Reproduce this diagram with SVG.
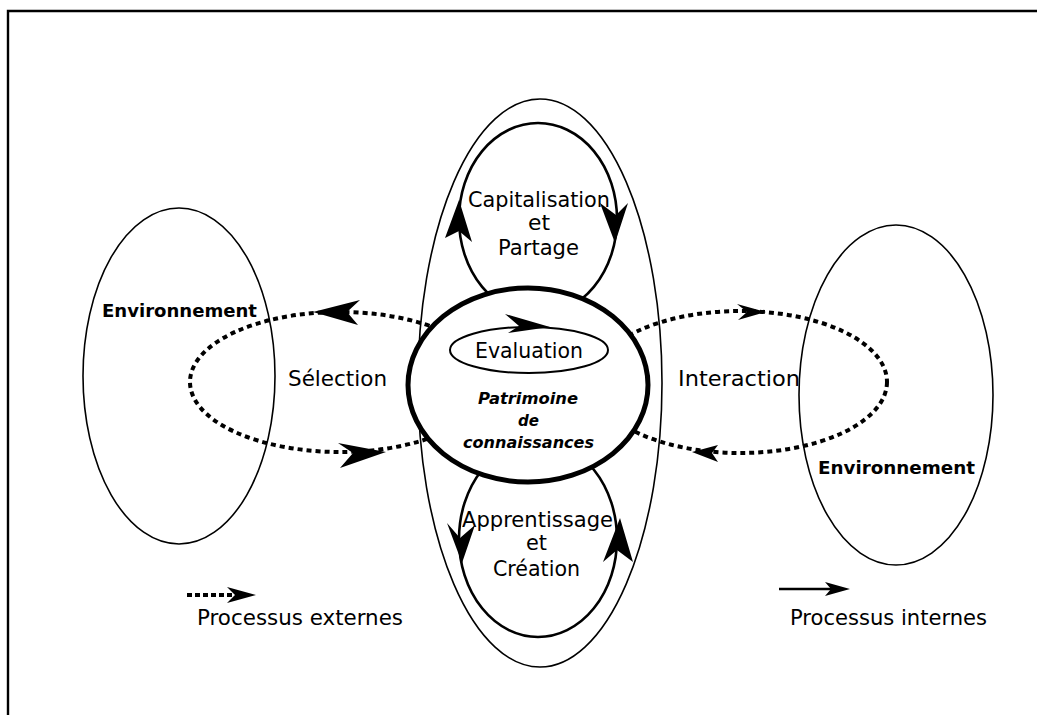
<svg xmlns="http://www.w3.org/2000/svg" width="1037" height="715" viewBox="0 0 1037 715">
<style>
.t{font-family:"DejaVu Sans","Liberation Sans",sans-serif;font-size:21px;fill:#000}
.b{font-family:"DejaVu Sans","Liberation Sans",sans-serif;font-size:18px;font-weight:bold;fill:#000}
.bi{font-family:"DejaVu Sans","Liberation Sans",sans-serif;font-size:16px;font-weight:bold;font-style:italic;fill:#000}
.thin{fill:none;stroke:#000;stroke-width:1.6}
.loop{fill:none;stroke:#000;stroke-width:2.6}
.dot{fill:none;stroke:#000;stroke-width:4;stroke-dasharray:5 4}
.ah{fill:#000;stroke:none}
</style>
<rect x="0" y="0" width="1037" height="715" fill="#fff"/>
<g id="frame">
<path d="M8,715 V11 H1037" fill="none" stroke="#000" stroke-width="2.4"/>
</g>
<g id="env-left">
<ellipse cx="179" cy="376" rx="96" ry="168" class="thin"/>
<text class="b" x="102" y="317" textLength="155" lengthAdjust="spacingAndGlyphs">Environnement</text>
</g>
<g id="env-right">
<ellipse cx="896" cy="395" rx="97" ry="170" class="thin"/>
<text class="b" x="818" y="474" textLength="157" lengthAdjust="spacingAndGlyphs">Environnement</text>
</g>
<g id="connectors">
<ellipse cx="340" cy="382" rx="150" ry="70" class="dot"/>
<ellipse cx="740" cy="382" rx="147" ry="71" class="dot"/>
<polygon class="ah" points="313,312 360,300 347,312 358,325"/>
<polygon class="ah" points="386,452 338,443 353,453 340,468"/>
<polygon class="ah" points="766,312 737,304 747,312 738,320"/>
<polygon class="ah" points="692,452 718,445 712,453 718,462"/>
</g>
<g id="systeme">
<ellipse cx="540" cy="383" rx="122" ry="284" class="thin"/>
</g>
<g id="capitalisation">
<ellipse cx="538" cy="219" rx="79" ry="96" class="loop"/>
<polygon class="ah" points="459,200 445,238 459,231 472,242"/>
<polygon class="ah" points="615,243 600,203 616,215 628,203"/>
<text class="t" x="468" y="207" textLength="142" lengthAdjust="spacingAndGlyphs">Capitalisation</text>
<text class="t" x="528" y="230" textLength="22" lengthAdjust="spacingAndGlyphs">et</text>
<text class="t" x="498" y="255" textLength="81" lengthAdjust="spacingAndGlyphs">Partage</text>
</g>
<g id="apprentissage">
<ellipse cx="538" cy="539" rx="79" ry="98" class="loop"/>
<polygon class="ah" points="462,563 447,523 460,538 475,525"/>
<polygon class="ah" points="620,518 603,562 617,550 633,562"/>
<text class="t" x="462" y="527" textLength="151" lengthAdjust="spacingAndGlyphs">Apprentissage</text>
<text class="t" x="526" y="550" textLength="21" lengthAdjust="spacingAndGlyphs">et</text>
<text class="t" x="493" y="576" textLength="87" lengthAdjust="spacingAndGlyphs">Création</text>
</g>
<g id="patrimoine">
<ellipse cx="528" cy="385" rx="120" ry="97" fill="#fff" stroke="#000" stroke-width="5"/>
<text class="bi" x="478" y="404" textLength="100" lengthAdjust="spacingAndGlyphs">Patrimoine</text>
<text class="bi" x="518" y="426" textLength="21" lengthAdjust="spacingAndGlyphs">de</text>
<text class="bi" x="463" y="448" textLength="131" lengthAdjust="spacingAndGlyphs">connaissances</text>
</g>
<g id="evaluation">
<ellipse cx="529" cy="350" rx="79" ry="23" fill="none" stroke="#000" stroke-width="2"/>
<polygon class="ah" points="550,327 505,314 519,326 508,333"/>
<text class="t" x="475" y="358" textLength="108" lengthAdjust="spacingAndGlyphs">Evaluation</text>
</g>
<g id="selection">
<text class="t" x="288" y="386" textLength="99" lengthAdjust="spacingAndGlyphs">Sélection</text>
</g>
<g id="interaction">
<text class="t" x="678" y="386" textLength="122" lengthAdjust="spacingAndGlyphs">Interaction</text>
</g>
<g id="legend-externes">
<line x1="187" y1="595" x2="232" y2="595" stroke="#000" stroke-width="4" stroke-dasharray="5 3"/>
<polygon class="ah" points="256,595 227,587 235,595 227,603"/>
<text class="t" x="197" y="625" textLength="206" lengthAdjust="spacingAndGlyphs">Processus externes</text>
</g>
<g id="legend-internes">
<line x1="779" y1="589" x2="834" y2="589" stroke="#000" stroke-width="2.5"/>
<polygon class="ah" points="850,589 825,582 831,589 825,596"/>
<text class="t" x="790" y="625" textLength="197" lengthAdjust="spacingAndGlyphs">Processus internes</text>
</g>
</svg>
